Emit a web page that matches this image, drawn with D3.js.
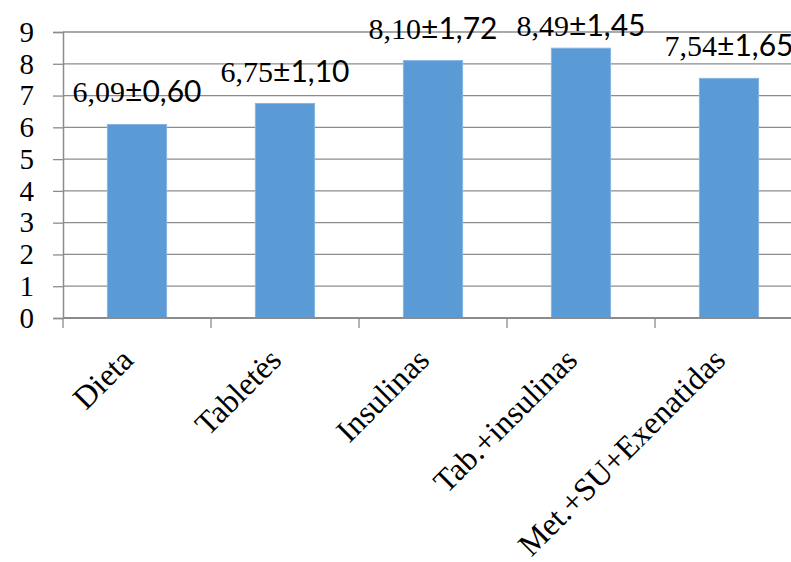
<!DOCTYPE html>
<html>
<head>
<meta charset="utf-8">
<script src="https://cdn.jsdelivr.net/npm/d3@7"></script>
<style>
  html, body { margin: 0; padding: 0; background: #fff; }
  svg { display: block; }
</style>
</head>
<body>
<svg id="chart" width="791" height="562"></svg>
<script>
// Treatment groups and their mean ± SD
const categories = ["Dieta", "Tabletės", "Insulinas", "Tab.+insulinas", "Met.+SU+Exenatidas"];
const means = [6.09, 6.75, 8.10, 8.49, 7.54];
const sds = [0.60, 1.10, 1.72, 1.45, 1.65];
const yTicks = [0, 1, 2, 3, 4, 5, 6, 7, 8, 9];

const W = 791, H = 562;
const plotLeft = 63, plotBottom = 318, plotTop = 32;
const step = 148;

const svg = d3.select("#chart");

const x = d3.scaleBand()
  .domain(categories)
  .range([plotLeft, plotLeft + step * categories.length])
  .paddingInner(0.6)
  .paddingOuter(0.3);

const y = d3.scaleLinear().domain([0, 9]).range([plotBottom, plotTop]);

const lt = d3.formatLocale({ decimal: ",", thousands: " ", grouping: [3], currency: ["", ""] });
const fmt = lt.format(".2f");

const serif = "'Liberation Serif', 'DejaVu Serif', serif";
const sans = "Lato, 'Open Sans', sans-serif";
const gridColor = "#8c8c8c";

// horizontal gridlines
svg.append("g")
  .selectAll("line")
  .data(yTicks.filter(t => t > 0))
  .join("line")
  .attr("x1", plotLeft).attr("x2", W)
  .attr("y1", d => y(d)).attr("y2", d => y(d))
  .attr("stroke", gridColor)
  .attr("stroke-width", 1.3);

// bars
svg.append("g")
  .selectAll("rect")
  .data(categories)
  .join("rect")
  .attr("x", d => x(d))
  .attr("width", x.bandwidth())
  .attr("y", (d, i) => y(means[i]))
  .attr("height", (d, i) => y(0) - y(means[i]))
  .attr("fill", "#5b9bd5")
  .attr("stroke", "#86b5e2")
  .attr("stroke-width", 1);

// y axis
const yAxis = svg.append("g")
  .attr("transform", `translate(${plotLeft},0)`)
  .call(d3.axisLeft(y).tickValues(yTicks).tickSize(10).tickPadding(19).tickFormat(d3.format("d")));
yAxis.select(".domain").attr("stroke", gridColor).attr("stroke-width", 1.5);
yAxis.selectAll(".tick line").attr("stroke", gridColor).attr("stroke-width", 1.3);
yAxis.selectAll(".tick text")
  .attr("font-family", serif)
  .attr("font-size", 29)
  .attr("fill", "#000")
  .attr("dy", "0.32em");

// x axis line and category boundary ticks
const boundaries = d3.range(categories.length + 1).map(i => x.range()[0] + i * x.step());
svg.append("line")
  .attr("x1", plotLeft).attr("x2", W)
  .attr("y1", plotBottom).attr("y2", plotBottom)
  .attr("stroke", gridColor).attr("stroke-width", 2);
svg.append("g")
  .selectAll("line")
  .data(boundaries.filter(b => b <= W))
  .join("line")
  .attr("x1", d => d).attr("x2", d => d)
  .attr("y1", plotBottom).attr("y2", plotBottom + 10)
  .attr("stroke", gridColor).attr("stroke-width", 1.3);

// rotated category labels
svg.append("g")
  .selectAll("text")
  .data(categories)
  .join("text")
  .attr("transform", d => `translate(${x(d) + x.bandwidth() / 2 - 2},${plotBottom + 44}) rotate(-45)`)
  .attr("text-anchor", "end")
  .attr("font-family", serif)
  .attr("font-size", 32)
  .attr("fill", "#000")
  .text(d => d);

// value labels: mean ± SD
const labels = svg.append("g")
  .selectAll("text")
  .data(categories)
  .join("text")
  .attr("x", d => x(d) + x.bandwidth() / 2)
  .attr("y", (d, i) => Math.max(y(means[i]) - 22, 36))
  .attr("text-anchor", "middle")
  .attr("font-size", 30)
  .attr("fill", "#000");
labels.append("tspan")
  .attr("font-family", serif)
  .text((d, i) => fmt(means[i]));
labels.append("tspan")
  .attr("font-family", sans)
  .text((d, i) => "±" + fmt(sds[i]));
</script>
</body>
</html>
